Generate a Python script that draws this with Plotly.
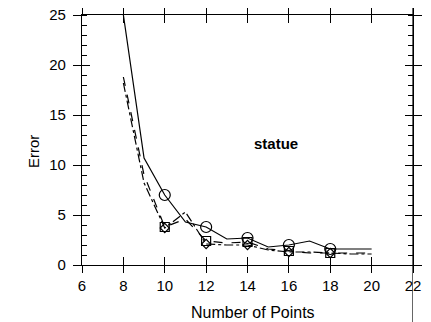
import plotly.graph_objects as go

num_points = [8, 9, 10, 11, 12, 13, 14, 15, 16, 17, 18, 19, 20]
err_solid = [25, 10.7, 7.0, 4.3, 3.8, 2.6, 2.7, 1.8, 2.0, 2.4, 1.6, 1.6, 1.6]
err_dash = [18.8, 9.0, 3.8, 4.6, 2.4, 2.2, 2.3, 1.6, 1.4, 1.2, 1.2, 1.2, 1.2]
err_dashdot = [18.2, 8.2, 3.7, 5.3, 2.1, 2.0, 2.0, 1.5, 1.3, 1.3, 1.2, 1.1, 1.1]
marker_x = [10, 12, 14, 16, 18]
x_ticks = [6, 8, 10, 12, 14, 16, 18, 20, 22]
y_ticks = [0, 5, 10, 15, 20, 25]
label = "statue"
x_title = "Number of Points"
y_title = "Error"

def pick(vals):
    return [v for x, v in zip(num_points, vals) if x in marker_x]

FONT = "Liberation Sans, Arial, sans-serif"
fig = go.Figure()
for vals, dash, sym, msize in [(err_solid, "solid", "circle-open", 11),
                               (err_dash, "dash", "square-open", 9),
                               (err_dashdot, "dashdot", "diamond-open", 7)]:
    fig.add_trace(go.Scatter(x=num_points, y=vals, mode="lines",
                             line=dict(color="black", width=1.2, dash=dash),
                             showlegend=False, hoverinfo="skip"))
    fig.add_trace(go.Scatter(x=marker_x, y=pick(vals), mode="markers",
                             marker=dict(symbol=sym, size=msize, color="black",
                                         line=dict(width=1.2, color="black")),
                             showlegend=False, hoverinfo="skip"))

fig.add_trace(go.Scatter(x=num_points, y=err_solid, xaxis="x2", yaxis="y2",
                         mode="lines", line=dict(color="rgba(0,0,0,0)"),
                         showlegend=False, hoverinfo="skip"))

axis_common = dict(showgrid=False, zeroline=False, showline=True,
                   linecolor="black", linewidth=1.2, tickcolor="black",
                   tickwidth=1.2, mirror="ticks", automargin=False,
                   ticklabeloverflow="allow")
# the page body has an 8px margin, so the figure is sized to fit inside it
fig.update_layout(
    width=423, height=314,
    margin=dict(l=74, r=18, t=7, b=57),
    plot_bgcolor="white", paper_bgcolor="white",
    font=dict(family=FONT, size=15, color="black"),
    xaxis=dict(range=[6, 22], tickvals=x_ticks, ticks="outside", ticklen=7,
               **axis_common),
    yaxis=dict(range=[0, 25], tickvals=y_ticks, ticks="outside", ticklen=8,
               ticklabelstandoff=4,
               minor=dict(dtick=1, ticks="inside", ticklen=5, tickcolor="black",
                          tickwidth=1.2, showgrid=False),
               **axis_common),
    xaxis2=dict(range=[6, 22], tickvals=x_ticks, ticks="inside", ticklen=8,
                showticklabels=False, overlaying="x", **axis_common),
    yaxis2=dict(range=[0, 25], tickvals=y_ticks, ticks="inside", ticklen=8,
                showticklabels=False, overlaying="y", **axis_common),
    annotations=[
        dict(x=15.4, y=12.2, xref="x", yref="y", text="<b>" + label + "</b>",
             showarrow=False, font=dict(size=15, family=FONT)),
        dict(x=0.518, y=-0.188, xref="paper", yref="paper", text=x_title,
             showarrow=False, xanchor="center", yanchor="middle",
             font=dict(size=16)),
        dict(x=-0.148, y=0.452, xref="paper", yref="paper", text=y_title,
             textangle=-90, showarrow=False, xanchor="center", yanchor="middle"),
    ],
    shapes=[dict(type="line", xref="x", yref="paper", x0=22, x1=22,
                 y0=-0.25, y1=1.1, line=dict(color="black", width=1.2))],
)
fig.write_html("out.html")
